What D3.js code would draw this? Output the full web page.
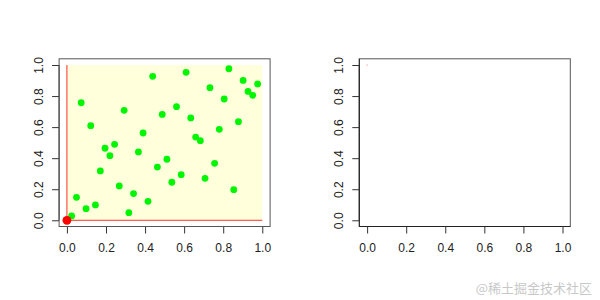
<!DOCTYPE html>
<html>
<head>
<meta charset="utf-8">
<script src="https://cdn.jsdelivr.net/npm/d3@7"></script>
<style>
  body { margin: 0; background: #fff; }
  text { font-family: "Liberation Sans", Arial, sans-serif; }
</style>
</head>
<body>
<div id="graph"></div>
<script>
// chart size
var width = 600;
var height = 300;

// point data
var xs = [0.024, 0.049, 0.073, 0.098, 0.122, 0.146, 0.171, 0.195, 0.220, 0.244,
          0.268, 0.293, 0.317, 0.341, 0.366, 0.390, 0.415, 0.439, 0.463, 0.488,
          0.512, 0.537, 0.561, 0.585, 0.610, 0.634, 0.659, 0.683, 0.707, 0.732,
          0.756, 0.780, 0.805, 0.829, 0.854, 0.878, 0.902, 0.927, 0.951, 0.976];
var ys = [0.028, 0.148, 0.757, 0.075, 0.609, 0.099, 0.318, 0.464, 0.416, 0.489,
          0.221, 0.708, 0.049, 0.172, 0.440, 0.562, 0.122, 0.927, 0.343, 0.682,
          0.393, 0.245, 0.732, 0.294, 0.953, 0.659, 0.536, 0.513, 0.270, 0.854,
          0.367, 0.586, 0.781, 0.976, 0.197, 0.635, 0.901, 0.830, 0.805, 0.878];
var ticks = [0, 0.2, 0.4, 0.6, 0.8, 1.0];
var origin = [0, 0];
var cornerPoint = [0, 1];

var svg = d3.select("#graph")
  .append("svg")
  .attr("width", width)
  .attr("height", height);

// draws one panel's frame and axes, returns the scales
function panel(left) {
  var xScale = d3.scaleLinear().domain([-0.04, 1.04]).range([left, left + 211]);
  var yScale = d3.scaleLinear().domain([-0.04, 1.04]).range([226.5, 58.8]);
  var g = svg.append("g");

  g.append("g")
    .attr("transform", "translate(0,226.5)")
    .call(d3.axisBottom(xScale).tickValues(ticks).tickFormat(d3.format(".1f")).tickSizeOuter(0).tickSize(7).tickPadding(10))
    .call(function(a) {
      a.select(".domain").attr("d", "M" + xScale(0) + ",0H" + xScale(1)).attr("stroke", "#333");
      a.selectAll("line").attr("stroke", "#333");
      a.selectAll("text").attr("font-size", 12).attr("fill", "#222");
    });

  g.append("g")
    .attr("transform", "translate(" + left + ",0)")
    .call(d3.axisLeft(yScale).tickValues(ticks).tickFormat(d3.format(".1f")).tickSizeOuter(0).tickSize(7))
    .call(function(a) {
      a.select(".domain").attr("d", "M0," + yScale(0) + "V" + yScale(1)).attr("stroke", "#333");
      a.selectAll("line").attr("stroke", "#333");
      a.selectAll("text")
        .attr("font-size", 12).attr("fill", "#222")
        .attr("x", null).attr("dy", null)
        .attr("text-anchor", "middle")
        .attr("dominant-baseline", "central")
        .attr("transform", "translate(-20.5,0) rotate(-90)");
    });

  return { g: g, x: xScale, y: yScale };
}

// left panel
var p1 = panel(59.1);
p1.g.insert("rect", ":first-child")
  .attr("x", p1.x(0)).attr("y", p1.y(1))
  .attr("width", p1.x(1) - p1.x(0)).attr("height", p1.y(0) - p1.y(1))
  .attr("fill", "#ffffdc");

p1.g.append("line")
  .attr("x1", p1.x(0)).attr("x2", p1.x(0)).attr("y1", p1.y(0)).attr("y2", p1.y(1))
  .attr("stroke", "#ff3030").attr("stroke-width", 1);
p1.g.append("line")
  .attr("x1", p1.x(0)).attr("x2", p1.x(1)).attr("y1", p1.y(0)).attr("y2", p1.y(0))
  .attr("stroke", "#ff3030").attr("stroke-width", 1);

p1.g.selectAll("circle.pt")
  .data(xs)
  .enter().append("circle")
  .attr("class", "pt")
  .attr("cx", function(d) { return p1.x(d); })
  .attr("cy", function(d, i) { return p1.y(ys[i]); })
  .attr("r", 3.4)
  .attr("fill", "#00f500");

p1.g.append("circle")
  .attr("cx", p1.x(origin[0])).attr("cy", p1.y(origin[1]))
  .attr("r", 4.4).attr("fill", "#ff0000");

p1.g.append("rect")
  .attr("x", 59.1).attr("y", 58.8).attr("width", 211).attr("height", 167.7)
  .attr("fill", "none").attr("stroke", "#555");

// right panel
var p2 = panel(359.3);
p2.g.append("rect")
  .attr("x", 359.3).attr("y", 58.8).attr("width", 211).attr("height", 167.7)
  .attr("fill", "none").attr("stroke", "#555");
p2.g.append("path")
  .attr("d", "M359.3,58.8V226.5H570.3")
  .attr("fill", "none").attr("stroke", "#222");
p2.g.append("circle")
  .attr("cx", p2.x(cornerPoint[0])).attr("cy", p2.y(cornerPoint[1]))
  .attr("r", 0.6).attr("fill", "#ff6060");

// watermark
svg.append("text")
  .attr("x", 592).attr("y", 293)
  .attr("text-anchor", "end")
  .attr("font-size", 13)
  .attr("fill", "#c8c8c8")
  .style("font-family", "'Noto Sans CJK SC', sans-serif")
  .text("@稀土掘金技术社区");
</script>
</body>
</html>
